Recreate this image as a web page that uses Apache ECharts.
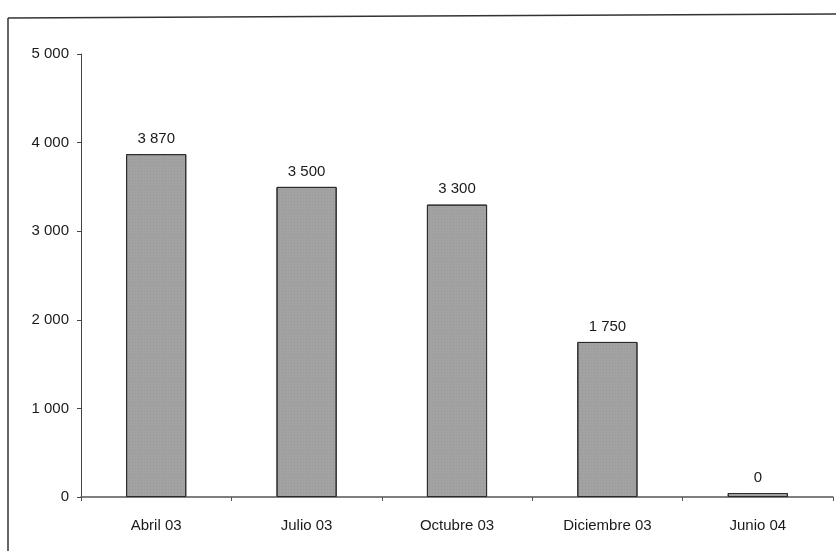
<!DOCTYPE html>
<html>
<head>
<meta charset="utf-8">
<script src="https://cdn.jsdelivr.net/npm/echarts@6/dist/echarts.min.js"></script>
<style>
html,body{margin:0;padding:0;background:#fff;}
#c{width:836px;height:551px;}
</style>
</head>
<body>
<div id="c"></div>
<script>
var categories = ['Abril 03', 'Julio 03', 'Octubre 03', 'Diciembre 03', 'Junio 04'];
var values = [3870, 3500, 3300, 1750, 0];
var yTicks = [0, 1000, 2000, 3000, 4000, 5000];

function fmt(v) {
  return String(v).replace(/\B(?=(\d{3})+(?!\d))/g, ' ');
}

var chart = echarts.init(document.getElementById('c'), null, {renderer: 'canvas'});
var font = '"Liberation Sans", Arial, sans-serif';
chart.setOption({
  animation: false,
  backgroundColor: '#fff',
  graphic: [
    {type: 'line', shape: {x1: 8, y1: 18, x2: 836, y2: 14}, style: {stroke: '#333', lineWidth: 1.5}},
    {type: 'line', shape: {x1: 8, y1: 18, x2: 8, y2: 551}, style: {stroke: '#333', lineWidth: 1.5}}
  ],
  grid: {left: 81, right: 3, top: 54, bottom: 54, containLabel: false},
  xAxis: {
    type: 'category',
    data: categories,
    axisLine: {show: true, lineStyle: {color: '#555', width: 1.5}},
    axisTick: {show: true, length: 4, lineStyle: {color: '#555'}},
    axisLabel: {color: '#1a1a1a', fontFamily: font, fontSize: 15, margin: 21}
  },
  yAxis: {
    type: 'value',
    min: yTicks[0],
    max: yTicks[yTicks.length - 1],
    interval: 1000,
    splitLine: {show: false},
    axisLine: {show: true, lineStyle: {color: '#444', width: 1}},
    axisTick: {show: true, length: 4, lineStyle: {color: '#444'}},
    axisLabel: {color: '#1a1a1a', fontFamily: font, fontSize: 15, margin: 12, formatter: fmt}
  },
  series: [{
    type: 'bar',
    data: values,
    barWidth: '40%',
    barMinHeight: 4,
    itemStyle: {
      color: '#a2a2a2',
      borderColor: '#2a2a2a',
      borderWidth: 1,
      decal: {
        symbol: 'rect',
        symbolSize: 0.5,
        dashArrayX: [1, 2],
        dashArrayY: [1, 2],
        color: 'rgba(80,80,80,0.45)',
        rotation: 0
      }
    },
    label: {
      show: true,
      position: 'top',
      distance: 8,
      color: '#1a1a1a',
      fontFamily: font,
      fontSize: 15,
      formatter: function (p) { return fmt(p.value); }
    }
  }],
  aria: {enabled: true, decal: {show: true}}
});
</script>
</body>
</html>
